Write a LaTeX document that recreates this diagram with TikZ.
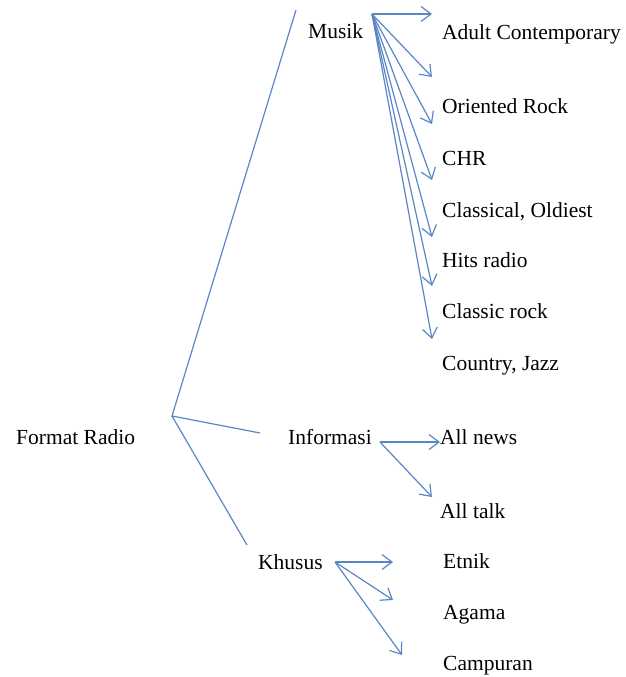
\documentclass[tikz,border=0pt]{standalone}
\usepackage{fontspec}
\setmainfont{Liberation Serif}
\usetikzlibrary{arrows.meta}
\definecolor{linkblue}{HTML}{5B86C5}

\begin{document}
\begin{tikzpicture}[x=1pt,y=-1pt,
    item/.style={anchor=base west,inner sep=0pt,
      font=\fontsize{21.5}{26}\selectfont},
    branch/.style={draw=linkblue,line width=1.2pt},
    arr/.style={branch,-{Straight Barb[length=10pt,width=15pt]}}]

      % ここまでをバウンディングボックスとする
      \useasboundingbox (0,0) rectangle (626,677);

      % 見出し
      \node[item] (radio) at (16,444) {Format Radio};
      \node[item] (musik) at (308,38) {Musik};
      \node[item] (info) at (288,444) {Informasi};
      \node[item] (khusus) at (258,569) {Khusus};

      % 分類項目
      \node[item] (adult) at (442,40) {Adult Contemporary};
      \node[item] (rock) at (442,113) {Oriented Rock};
      \node[item] (chr) at (442,165) {CHR};
      \node[item] (classical) at (442,217) {Classical, Oldiest};
      \node[item] (hits) at (442,267) {Hits radio};
      \node[item] (classic) at (442,318) {Classic rock};
      \node[item] (country) at (442,370) {Country, Jazz};
      \node[item] (news) at (440,444) {All news};
      \node[item] (talk) at (440,518) {All talk};
      \node[item] (etnik) at (443,568) {Etnik};
      \node[item] (agama) at (443,619) {Agama};
      \node[item] (campur) at (443,670) {Campuran};

      % 分岐点
      \coordinate (fork) at (172,416);
      \coordinate (to-musik) at (296,10);
      \coordinate (to-info) at (260,433);
      \coordinate (to-khusus) at (247,545);
      \draw[branch] (to-musik) -- (fork) -- (to-info);
      \draw[branch] (fork) -- (to-khusus);

      % 音楽の矢印
      \coordinate (musik-out) at (372,14);
      \coordinate (t1) at (432,14);
      \coordinate (t2) at (432,77);
      \coordinate (t3) at (432,124);
      \coordinate (t4) at (432,180);
      \coordinate (t5) at (432,237);
      \coordinate (t6) at (432,286);
      \coordinate (t7) at (432,339);
      \foreach \t in {t1,t2,t3,t4,t5,t6,t7}
        \draw[arr] (musik-out) -- (\t);

      % 情報の矢印
      \coordinate (info-out) at (380,442);
      \coordinate (t8) at (432,497);
      \draw[arr] (info-out) -- (news.west |- info-out);
      \draw[arr] (info-out) -- (t8);

      % 特別の矢印
      \coordinate (khusus-out) at (335,562);
      \coordinate (t9) at (393,562);
      \coordinate (t10) at (393,600);
      \coordinate (t11) at (402,655);
      \draw[arr] (khusus-out) -- (t9);
      \draw[arr] (khusus-out) -- (t10);
      \draw[arr] (khusus-out) -- (t11);

    \end{tikzpicture}
\end{document}
